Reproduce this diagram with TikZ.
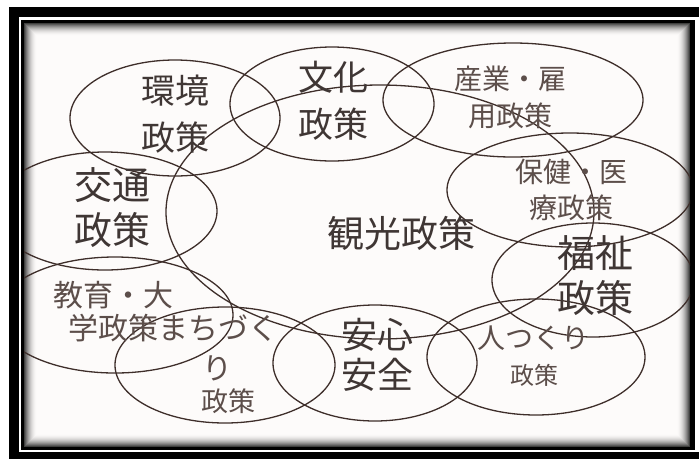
\documentclass[tikz,border=0pt]{standalone}
\usepackage{fontspec}
\newfontfamily\jp{Noto Sans CJK JP}
\usetikzlibrary{shapes.geometric}
\definecolor{linec}{HTML}{3E2E2A}
\definecolor{textd}{HTML}{3F3634}
\definecolor{textl}{HTML}{5C4E4A}
\definecolor{paper}{HTML}{FDFBFA}
\tikzset{
  ell/.style={ellipse, draw=linec, line width=1.3pt, inner sep=0pt, fill=none},
  lab/.style={align=center, inner sep=0pt, text=textd},
  labl/.style={align=center, inner sep=0pt, text=textl},
}
\begin{document}
\begin{tikzpicture}[x=1pt,y=-1pt]
\useasboundingbox (0,0) rectangle (699,459);
% frame
\fill[white] (0,0) rectangle (699,459);
\fill[black] (9,7) rectangle (699,459);
\fill[white] (19,17) rectangle (699,452);
\fill[black] (21,20) rectangle (695,450);
\fill[paper] (24,23) rectangle (690,447);
\foreach \i [evaluate=\i as \g using {75*(1-\i/13)^2}] in {0,...,12}
  \draw[black!\g!paper, line width=1.05pt] (24.5+\i,23.5+\i) rectangle (689.5-\i,446.5-\i);
\begin{scope}
\clip (24,23) rectangle (690,447);
\node[ell, minimum width=428pt, minimum height=254pt] (kanko) at (380,212) {};
\node[ell, minimum width=210pt, minimum height=116pt] (kankyo) at (175,118) {};
\node[ell, minimum width=204pt, minimum height=114pt] (bunka) at (332,104) {};
\node[ell, minimum width=260pt, minimum height=114pt] (sangyo) at (513,100) {};
\node[ell, minimum width=246pt, minimum height=114pt] (hoken) at (570,190) {};
\node[ell, minimum width=202pt, minimum height=114pt] (fukushi) at (593,280) {};
\node[ell, minimum width=218pt, minimum height=116pt] (hito) at (536,357) {};
\node[ell, minimum width=204pt, minimum height=116pt] (anshin) at (375,363) {};
\node[ell, minimum width=220pt, minimum height=116pt] (machi) at (225,365) {};
\node[ell, minimum width=236pt, minimum height=116pt] (kyoiku) at (115,315) {};
\node[ell, minimum width=224pt, minimum height=118pt] (kotsu) at (105,211) {};
\end{scope}
% labels
\node[lab, font={\jp\fontsize{34}{47}\selectfont}] (tkankyo) at (175,114) {環境\\政策};
\node[lab, font={\jp\fontsize{35}{47}\selectfont}] (tbunka) at (333,101) {文化\\政策};
\node[labl, font={\jp\fontsize{28}{37}\selectfont}] (tsangyo) at (510,97) {産業・雇\\用政策};
\node[labl, font={\jp\fontsize{28}{36}\selectfont}] (thoken) at (571,190) {保健・医\\療政策};
\node[lab, font={\jp\fontsize{37}{44}\selectfont}] (tkanko) at (401,233) {観光政策};
\node[lab, font={\jp\fontsize{38}{45}\selectfont}] (tfukushi) at (595,276) {福祉\\政策};
\node[lab, font={\jp\fontsize{38}{45}\selectfont}] (tkotsu) at (112,208) {交通\\政策};
\node[labl, font={\jp\fontsize{30}{33}\selectfont}] (tkyoiku) at (113,312) {教育・大\\学政策};
\node[labl, font={\jp\fontsize{30}{36}\selectfont}] (tmachia) at (218,328) {まちづく};
\node[labl, font={\jp\fontsize{30}{36}\selectfont}] (tmachib) at (217,368) {り};
\node[labl, font={\jp\fontsize{27}{32}\selectfont}] (tmachic) at (228,401) {政策};
\node[lab, font={\jp\fontsize{36}{40}\selectfont}] (tanshin) at (377,355) {安心\\安全};
\node[labl, font={\jp\fontsize{28}{34}\selectfont}] (thitoa) at (533,338) {人つくり};
\node[labl, font={\jp\fontsize{24}{30}\selectfont}] (thitob) at (534,375) {政策};
\end{tikzpicture}
\end{document}
